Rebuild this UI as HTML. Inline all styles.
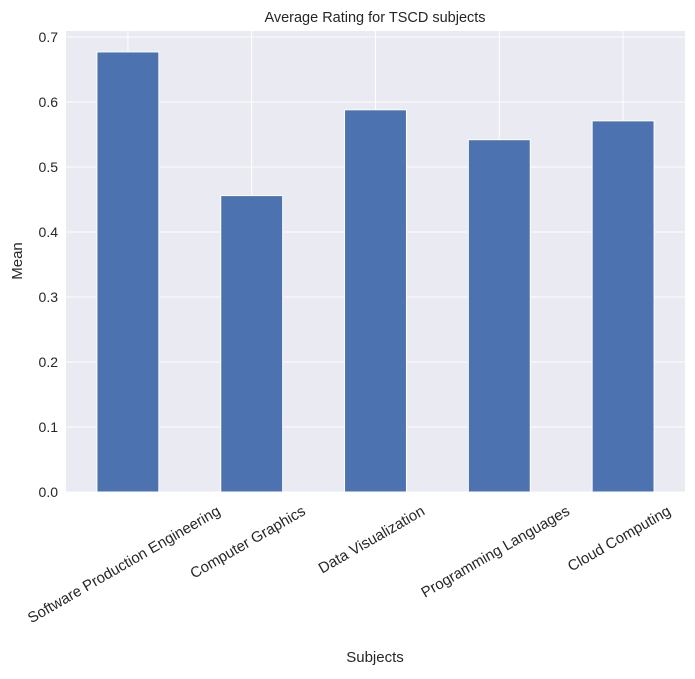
<!DOCTYPE html>
<html><head><meta charset="utf-8"><style>
body{margin:0;background:#fff;font-family:"Liberation Sans","DejaVu Sans",sans-serif;}
</style></head><body>
<svg id="chart" width="695" height="674" xmlns="http://www.w3.org/2000/svg">
<rect x="66" y="31" width="619" height="461" fill="#eaeaf2"/>
<g id="grid"></g><g id="bars"></g><g id="yticks"></g><g id="xticks"></g>
<text x="375" y="22" text-anchor="middle" font-size="14.5" fill="#262626">Average Rating for TSCD subjects</text>
<text x="375" y="662" text-anchor="middle" font-size="15" fill="#262626">Subjects</text>
<text transform="translate(22,261) rotate(-90)" text-anchor="middle" font-size="15" fill="#262626">Mean</text>
</svg>
<script>
const categories=["Software Production Engineering","Computer Graphics","Data Visualization","Programming Languages","Cloud Computing"];
const values=[0.677,0.456,0.588,0.542,0.571];
const yTicks=[0,0.1,0.2,0.3,0.4,0.5,0.6,0.7];
const yTickLabels=["0.0","0.1","0.2","0.3","0.4","0.5","0.6","0.7"];
const NS="http://www.w3.org/2000/svg";
const L=66,R=685,B=492;
const y=v=>B-v*650;
const x=i=>L+(i+0.5)*(R-L)/categories.length;
const bw=0.5*(R-L)/categories.length;
function mk(t,a,p){const e=document.createElementNS(NS,t);for(const k in a)e.setAttribute(k,a[k]);p.appendChild(e);return e;}
const g=document.getElementById('grid'),bg=document.getElementById('bars'),yt=document.getElementById('yticks'),xt=document.getElementById('xticks');
yTicks.forEach((v,i)=>{
 const l=mk('line',{x1:L,x2:R,y1:y(v),y2:y(v),stroke:'#fff','stroke-width':1},g);
 
 
 const t=mk('text',{x:L-8,y:y(v)+5,'text-anchor':'end','font-size':14,fill:'#262626'},yt);
 t.textContent=yTickLabels[i];
 
 
});
categories.forEach((c,i)=>{
 const l=mk('line',{x1:x(i),x2:x(i),y1:31,y2:B,stroke:'#fff','stroke-width':1},g);
 
 
 const r=mk('rect',{x:x(i)-bw/2,y:y(values[i]),width:bw,height:B-y(values[i]),fill:'#4c72b0',stroke:'#fff','stroke-width':1},bg);
 
 
 const t=mk('text',{'text-anchor':'middle','font-size':15,fill:'#262626'},xt);
 t.textContent=c;
 
 
 const w=t.getComputedTextLength();
 const h=15;
 const cy=B+11+(w*0.5+h*0.866)/2;
 t.setAttribute('transform',`translate(${x(i)-4},${cy}) rotate(-30) translate(0,5)`);
});
</script>
</body></html>
